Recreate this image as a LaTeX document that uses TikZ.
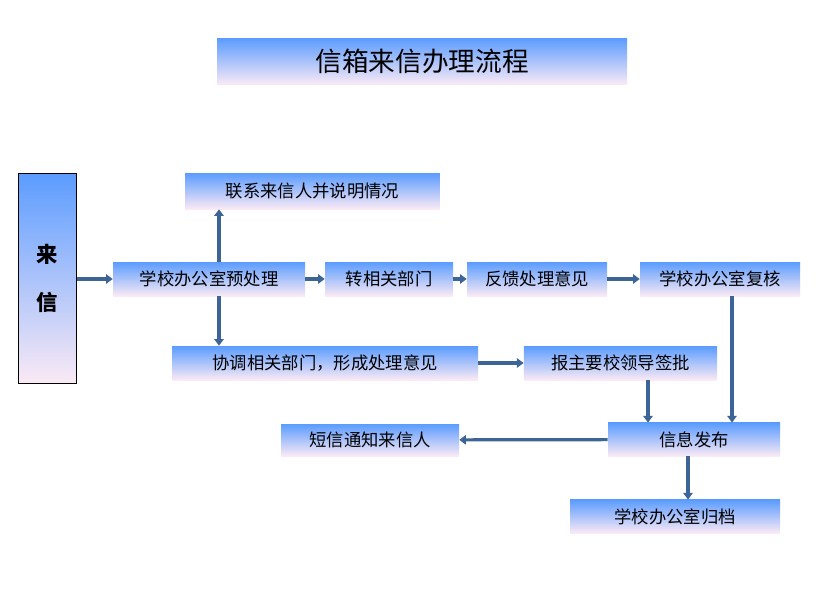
\documentclass[tikz,border=0pt]{standalone}
\usepackage{fontspec}
\newfontfamily\cjk{Noto Sans CJK SC}
\usetikzlibrary{arrows.meta}
\definecolor{boxtop}{HTML}{5B9CFF}
\definecolor{boxbot}{HTML}{FBEAF5}
\definecolor{flow}{HTML}{3C6497}
\tikzset{
    box/.style={inner sep=0pt,top color=boxtop,bottom color=boxbot,font=\cjk\fontsize{13}{15}\selectfont},
    flowline/.style={draw=flow,line width=2.4pt,-{Triangle[length=5pt,width=7pt]}},
  }
\begin{document}
\begin{tikzpicture}[x=0.75pt,y=-0.75pt]
				  %PAGE
				  \fill[white] (0,0) rectangle (820,614);
				  \useasboundingbox (0,0) rectangle (820,614);
				  %TITLE
				  \node[box,minimum width=307.5pt,minimum height=35pt,font=\cjk\fontsize{20}{24}\selectfont] (title) at (422,61.5) {信箱来信办理流程};
				  %LEFT
				  \node[box,draw=black,line width=0.6pt,minimum width=44pt,minimum height=158pt,align=center,font=\cjk\bfseries\fontsize{16}{36}\selectfont] (letter) at (47.5,278.5) {来\\信};
				  %ROW 1
				  \node[box,minimum width=191pt,minimum height=27pt] (contact) at (312.5,191) {联系来信人并说明情况};
				  %ROW 2
				  \node[box,minimum width=144pt,minimum height=25.5pt] (pre) at (209,279) {学校办公室预处理};
				  \node[box,minimum width=96pt,minimum height=25.5pt] (dept) at (389,279) {转相关部门};
				  \node[box,minimum width=105pt,minimum height=25.5pt] (feed) at (537,279) {反馈处理意见};
				  \node[box,minimum width=120pt,minimum height=25.5pt] (review) at (720,279) {学校办公室复核};
				  %ROW 3
				  \node[box,minimum width=229.5pt,minimum height=25.5pt] (coord) at (325,363) {协调相关部门，形成处理意见};
				  \node[box,minimum width=145pt,minimum height=25.5pt] (sign) at (620.5,363) {报主要校领导签批};
				  %ROW 4
				  \node[box,minimum width=133.5pt,minimum height=24pt] (sms) at (370,440) {短信通知来信人};
				  \node[box,minimum width=129pt,minimum height=25pt] (pub) at (694,439.5) {信息发布};
				  %ROW 5
				  \node[box,minimum width=157.5pt,minimum height=25pt] (arch) at (675,516.5) {学校办公室归档};
				  %ARROWS
				  \draw[flowline] (letter.east |- pre) -- (pre.west);
				  \draw[flowline] (pre.north -| 219,0) -- (contact.south -| 219,0);
				  \draw[flowline] (pre.south -| 219,0) -- (coord.north -| 219,0);
				  \draw[flowline] (pre) -- (dept);
				  \draw[flowline] (dept) -- (feed);
				  \draw[flowline] (feed) -- (review);
				  \draw[flowline] (coord) -- (sign);
				  \draw[flowline] (sign.south -| 648,0) -- (pub.north -| 648,0);
				  \draw[flowline] (review.south -| 732,0) -- (pub.north -| 732,0);
				  \draw[flowline] (pub) -- (sms);
				  \draw[flowline] (pub.south -| 688,0) -- (arch.north -| 688,0);
\end{tikzpicture}
\end{document}
